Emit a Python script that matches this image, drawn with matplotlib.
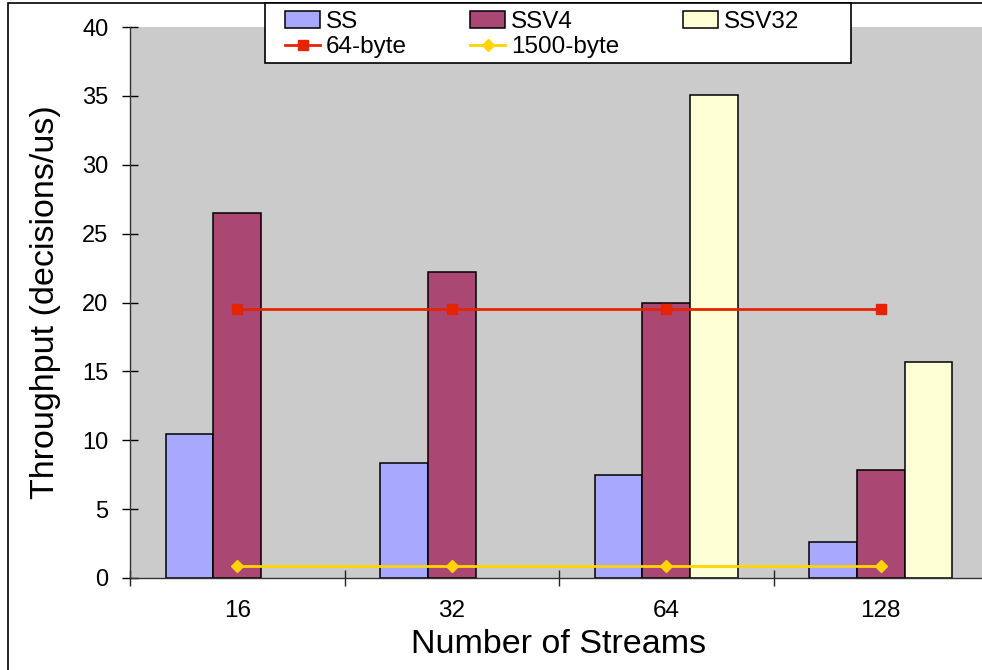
import numpy as np
import matplotlib
matplotlib.use("Agg")
from matplotlib import pyplot as plt
from matplotlib.patches import Rectangle
from matplotlib.ticker import FixedLocator, NullFormatter

plt.rcParams['font.family'] = ['Liberation Sans', 'DejaVu Sans']

# throughput per number of streams
streams = ['16', '32', '64', '128']
ss = [10.45, 8.37, 7.48, 2.64]
ssv4 = [26.47, 22.19, 20.0, 7.82]
ssv32 = [np.nan, np.nan, 35.04, 15.66]
byte64 = [19.5, 19.5, 19.5, 19.5]
byte1500 = [0.85, 0.85, 0.85, 0.85]

W, H = 982, 670
fig = plt.figure(figsize=(W / 100, H / 100), dpi=100)
ax = fig.add_axes([130 / W, 1 - 578 / H, 858 / W, 551 / H])
ax.set_facecolor('#cbcbcb')

x = np.arange(len(streams))
bw = 1 / 4.5
ax.bar(x - bw, ss, bw, color='#a8a8ff', edgecolor='black', linewidth=1.1, label='SS', zorder=2)
ax.bar(x, ssv4, bw, color='#aa4873', edgecolor='black', linewidth=1.1, label='SSV4', zorder=2)
ax.bar(x + bw, ssv32, bw, color='#ffffd6', edgecolor='black', linewidth=1.1, label='SSV32', zorder=2)
ax.plot(x, byte64, color='#e52400', lw=2, marker='s', ms=7.5, label='64-byte', zorder=3)
ax.plot(x, byte1500, color='#ffd400', lw=2, marker='D', ms=6, label='1500-byte', zorder=3)

ax.set_xlim(-0.5, 3.5)
ax.set_ylim(0, 40)
ax.set_yticks(np.arange(0, 41, 5))
ax.tick_params(axis='y', direction='inout', length=11, width=1, labelsize=17, pad=10, colors='black')

# category separators as major ticks, labels sit on minor ticks
ax.xaxis.set_major_locator(FixedLocator(np.arange(-0.5, 4, 1)))
ax.xaxis.set_major_formatter(NullFormatter())
ax.xaxis.set_minor_locator(FixedLocator(x))
ax.set_xticklabels(streams, minor=True)
ax.tick_params(axis='x', which='major', direction='inout', length=11, width=1, color='#222222')
ax.tick_params(axis='x', which='minor', length=0, labelsize=17.5, pad=16)

for s in ['top', 'right']:
    ax.spines[s].set_visible(False)
for s in ['left', 'bottom']:
    ax.spines[s].set_color('#333333')
    ax.spines[s].set_linewidth(1)

ax.set_xlabel('Number of Streams', fontsize=24.5, labelpad=5)
ax.set_ylabel('Throughput (decisions/us)', fontsize=24.5)
ax.yaxis.set_label_coords(-0.080, 0.5)

h, lab = ax.get_legend_handles_labels()
order = [lab.index(n) for n in ['SS', '64-byte', 'SSV4', '1500-byte', 'SSV32']]
leg = fig.legend([h[i] for i in order], [lab[i] for i in order], ncol=3,
                 loc='upper left', bbox_to_anchor=(285 / W, 1 - 11 / H),
                 fontsize=17.5, frameon=False, borderpad=0, labelspacing=0.12,
                 handlelength=1.44, handleheight=0.66, handletextpad=0.25,
                 columnspacing=2.6, borderaxespad=0)

# legend box
fig.patches.append(Rectangle((265 / W, 1 - 63 / H), 586 / W, 60 / H, transform=fig.transFigure,
                             facecolor='white', edgecolor='black', linewidth=1.2, zorder=4))
leg.set_zorder(5)

# outer chart border
fig.patches.append(Rectangle((8 / W, -0.1), 1.1, 1.1 - 3 / H, transform=fig.transFigure,
                             fill=False, edgecolor='black', linewidth=1.2))

fig.savefig('out.png', dpi=100)
